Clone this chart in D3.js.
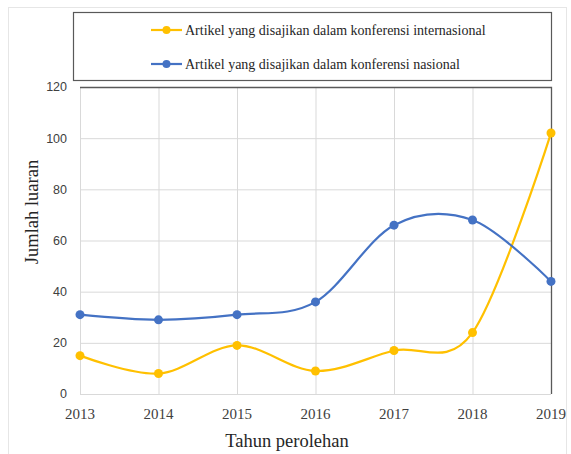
<!DOCTYPE html>
<html><head><meta charset="utf-8">
<script src="https://cdn.jsdelivr.net/npm/d3@7"></script>
<style>body{margin:0;background:#fff}svg{display:block}</style>
</head><body>
<svg id="c" width="571" height="454"></svg>
<script>
const years = ["2013","2014","2015","2016","2017","2018","2019"];
const internasional = [15, 8, 19, 9, 17, 24, 102];
const nasional = [31, 29, 31, 36, 66, 68, 44];
const yTicks = [0, 20, 40, 60, 80, 100, 120];
const seriesNames = ["Artikel yang disajikan dalam konferensi internasional", "Artikel yang disajikan dalam konferensi nasional"];
const colors = ["#FFC000", "#4472C4"];

const svg = d3.select("#c");
const L = 80, R = 551, T = 87, B = 394;
const x = d3.scalePoint().domain(years).range([L, R]);
const y = d3.scaleLinear().domain([0, 120]).range([B, T]);
const serif = "'Liberation Serif', 'DejaVu Serif', serif";

// outer border
svg.append("rect").attr("x", 8.5).attr("y", 7.5).attr("width", 558).attr("height", 450)
  .attr("fill", "none").attr("stroke", "#e6e6e6");

// gridlines
svg.append("g").selectAll("line").data(yTicks).join("line")
  .attr("x1", L).attr("x2", R).attr("y1", d => y(d) + 0.5).attr("y2", d => y(d) + 0.5)
  .attr("stroke", "#d9d9d9").attr("stroke-width", 1);
svg.append("g").selectAll("line").data(years).join("line")
  .attr("x1", d => x(d) + 0.5).attr("x2", d => x(d) + 0.5).attr("y1", T).attr("y2", B)
  .attr("stroke", "#d9d9d9").attr("stroke-width", 1);
// top and right dark border
svg.append("path").attr("d", `M${L},${T + 0.5}H${R + 0.5}V${B}`)
  .attr("fill", "none").attr("stroke", "#595959").attr("stroke-width", 1.3);

// y tick labels
svg.append("g").selectAll("text").data(yTicks).join("text")
  .attr("x", 67).attr("y", d => y(d)).attr("dy", "0.35em").attr("text-anchor", "end")
  .attr("font-family", "'Liberation Sans', Arial, sans-serif").attr("font-size", 12.5)
  .attr("fill", "#404040").text(d => d);

// x tick labels
svg.append("g").selectAll("text").data(years).join("text")
  .attr("x", d => x(d)).attr("y", 419).attr("text-anchor", "middle")
  .attr("font-family", serif).attr("font-size", 15).attr("fill", "#404040").text(d => d);

// axis titles
svg.append("text").attr("x", 287).attr("y", 447).attr("text-anchor", "middle")
  .attr("font-family", serif).attr("font-size", 18.5).attr("fill", "#262626").text("Tahun perolehan");
svg.append("text").attr("transform", "translate(38,212) rotate(-90)").attr("text-anchor", "middle")
  .attr("font-family", serif).attr("font-size", 18.5).attr("fill", "#262626").text("Jumlah luaran");

// lines
const line = d3.line().x((d, i) => x(years[i])).y(d => y(d)).curve(d3.curveCardinal.tension(0));
[internasional, nasional].forEach((s, k) => {
  svg.append("path").datum(s).attr("d", line).attr("fill", "none")
    .attr("stroke", colors[k]).attr("stroke-width", 2.2);
  svg.append("g").selectAll("circle").data(s).join("circle")
    .attr("cx", (d, i) => x(years[i])).attr("cy", d => y(d)).attr("r", 4.5).attr("fill", colors[k]);
});

// legend
svg.append("rect").attr("x", 73.5).attr("y", 12.5).attr("width", 478).attr("height", 68)
  .attr("fill", "#fff").attr("stroke", "#595959").attr("stroke-width", 1.2);
const ly = [30, 64];
seriesNames.forEach((n, k) => {
  svg.append("line").attr("x1", 151).attr("x2", 182).attr("y1", ly[k]).attr("y2", ly[k])
    .attr("stroke", colors[k]).attr("stroke-width", 2.2);
  svg.append("circle").attr("cx", 166.5).attr("cy", ly[k]).attr("r", 4).attr("fill", colors[k]);
  svg.append("text").attr("x", 185).attr("y", ly[k]).attr("dy", "0.35em")
    .attr("font-family", serif).attr("font-size", 14).attr("fill", "#262626").text(n);
});
</script>
</body></html>
